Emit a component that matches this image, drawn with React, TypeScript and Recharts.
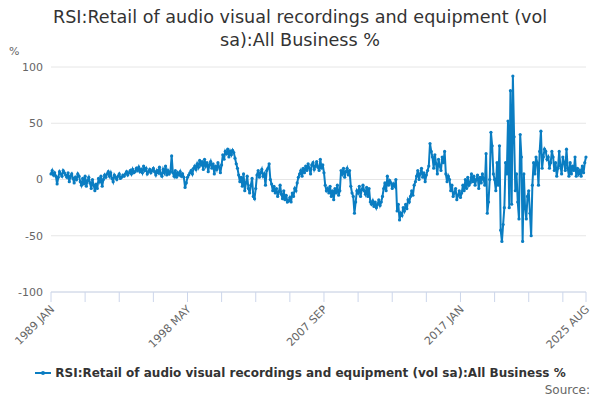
import React from "react";
import { LineChart, Line, XAxis, YAxis, CartesianGrid } from "recharts";

const startYear = 1989;
const monthNames = ["JAN","FEB","MAR","APR","MAY","JUN","JUL","AUG","SEP","OCT","NOV","DEC"];
const yearValues: number[][] = [
  [5,8,4,6,3,-4,2,7,5,3,8,6],
  [4,2,6,-2,3,5,1,-3,2,0,5,3],
  [-2,-5,1,-4,3,-6,-1,2,-3,-8,0,-5],
  [-10,-4,-8,1,-2,3,-6,0,4,2,5,7],
  [3,6,1,-2,4,2,0,3,5,1,2,4],
  [3,5,7,4,6,8,5,9,6,7,10,8],
  [11,7,9,6,12,8,10,5,7,9,6,8],
  [10,7,4,8,6,11,5,3,9,6,12,4],
  [8,5,7,21,6,3,8,2,6,4,7,3],
  [5,2,-7,-3,2,4,6,8,5,10,12,9],
  [14,11,17,13,16,9,18,12,15,7,13,16],
  [10,14,5,12,9,15,11,6,13,22,18,25],
  [23,27,20,25,22,26,24,19,14,10,4,-2],
  [2,-6,5,-10,-3,3,-8,-12,-5,1,-15,-17],
  [-8,4,8,2,6,9,3,5,-5,8,10,14],
  [0,-4,-10,-6,-12,-8,-15,-11,-5,-13,-17,-10],
  [-18,-14,-20,-19,-16,-20,-12,-15,-8,-10,-3,2],
  [5,8,3,10,6,12,8,14,10,5,13,15],
  [9,12,16,11,8,18,10,13,6,-5,-10,-8],
  [-12,-6,-15,-10,-18,-8,-12,-5,-14,-10,8,5],
  [10,2,7,10,4,8,-6,-12,-15,-30,-20,-10],
  [-12,-6,-15,-9,-5,-10,-13,-7,-15,-8,-20,-22],
  [-19,-24,-20,-25,-22,-18,-23,-20,-15,-8,-3,-10],
  [3,-5,-1,-3,-8,-4,-6,0,-28,-22,-36,-30],
  [-32,-25,-28,-22,-26,-18,-20,-15,-10,-14,-5,-2],
  [3,8,0,5,10,2,6,-2,4,8,12,32],
  [25,20,10,22,14,5,18,12,8,20,15,25],
  [5,-2,3,0,-10,-5,-15,-12,-8,-18,-14,-10],
  [-16,-12,-5,-10,0,-8,2,-5,-3,5,-2,3],
  [-5,0,4,-8,2,-3,5,0,-5,23,-30,-20],
  [0,42,30,5,0,-10,15,-5,30,-45,-55,-40],
  [-25,15,5,52,-25,79,-22,92,38,-10,5,-20],
  [-35,40,20,-55,5,-25,-35,-15,-10,-30,-50,-5],
  [15,5,20,15,-5,25,43,10,20,27,25,18],
  [20,10,15,25,20,8,15,3,10,25,12,5],
  [20,15,8,27,10,3,15,5,12,8,20,3],
  [10,5,8,3,12,6,15,20],
];
const xTicks = [0,28,56,84,112,140,168,196,224,252,280,308,336,364,392,420,439];
const labelTicks = [0,112,224,336,439];
const yTicks = [-100,-50,0,50,100];

const labelOf = (i: number) => `${startYear + Math.floor(i / 12)} ${monthNames[i % 12]}`;
const data = yearValues.flat().map((v, i) => ({ i, v }));

const font = "'DejaVu Sans', sans-serif";
const seriesName = "RSI:Retail of audio visual recordings and equipment (vol sa):All Business %";

const XTick = (props: any) => {
  const { x, y, payload } = props;
  if (!labelTicks.includes(payload.value)) return null;
  return (
    <text x={x + 4} y={y + 6} transform={`rotate(-45 ${x + 4} ${y + 6})`} textAnchor="end" fontSize={11} fill="#666" fontFamily={font}>
      {labelOf(payload.value)}
    </text>
  );
};

export default function App() {
  return (
    <div style={{ position: "absolute", left: 0, top: 0, width: 600, height: 400, background: "#fff", fontFamily: font }}>
      <div style={{ position: "absolute", top: 6, width: 600, textAlign: "center", fontSize: 17.6, color: "#333", lineHeight: "23px" }}>
        RSI:Retail of audio visual recordings and equipment (vol<br />sa):All Business %
      </div>
      <div style={{ position: "absolute", left: 9, top: 45, fontSize: 11, color: "#666" }}>%</div>
      <LineChart width={600} height={400} data={data} margin={{ top: 67, right: 14, bottom: 78, left: 11 }}>
        <CartesianGrid vertical={false} stroke="#e6e6e6" />
        <XAxis dataKey="i" type="number" domain={[0, 439]} ticks={xTicks} interval={0} height={30} tick={<XTick />} tickSize={10} stroke="#ccd6eb" tickLine={{ stroke: "#ccd6eb" }} />
        <YAxis domain={[-100, 100]} ticks={yTicks} width={40} axisLine={false} tickLine={false} tick={{ fontSize: 11, fill: "#666", fontFamily: font }} />
        <Line dataKey="v" stroke="#0a7dc2" strokeWidth={2} dot={{ r: 1.6, fill: "#0a7dc2", stroke: "#0a7dc2", strokeWidth: 0 }} isAnimationActive={false} />
      </LineChart>
      <div style={{ position: "absolute", top: 366, width: 600, textAlign: "center", fontSize: 12, fontWeight: "bold", color: "#333", display: "flex", justifyContent: "center", alignItems: "center" }}>
        <svg width={18} height={10} style={{ marginRight: 3 }}><line x1={1} y1={5} x2={17} y2={5} stroke="#0a7dc2" strokeWidth={2} /><circle cx={9} cy={5} r={2} fill="#0a7dc2" /></svg>
        {seriesName}
      </div>
      <div style={{ position: "absolute", top: 383, right: 10, fontSize: 12, color: "#666" }}>Source:</div>
    </div>
  );
}
